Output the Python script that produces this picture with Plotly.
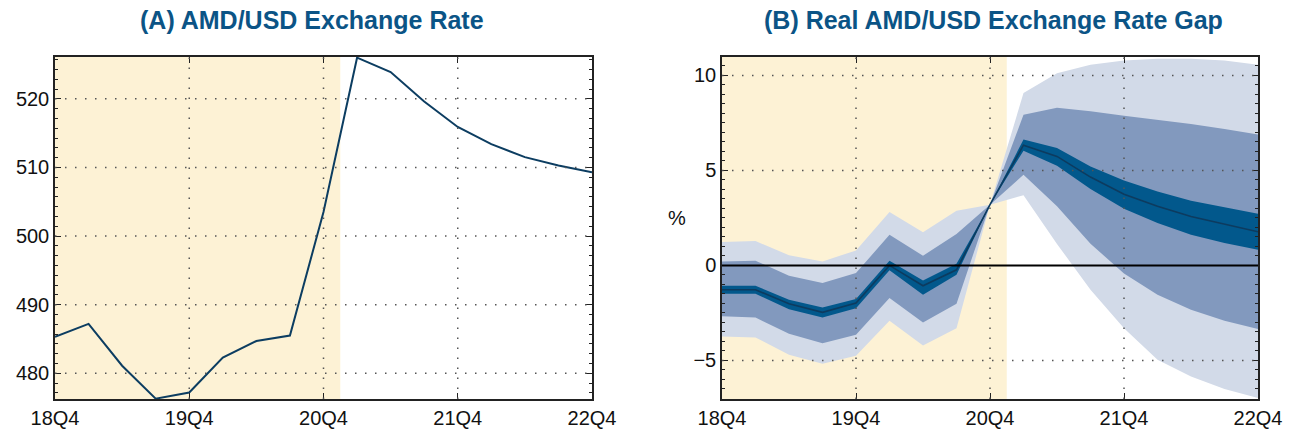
import plotly.graph_objects as go

# ---------------- data ----------------
quarters = ["18Q4", "19Q1", "19Q2", "19Q3", "19Q4", "20Q1", "20Q2", "20Q3", "20Q4",
            "21Q1", "21Q2", "21Q3", "21Q4", "22Q1", "22Q2", "22Q3", "22Q4"]
tick_labels = ["18Q4", "19Q4", "20Q4", "21Q4", "22Q4"]

amd_usd = [485.3, 487.2, 481.1, 476.3, 477.2, 482.3, 484.7, 485.5, 503.5,
           526.0, 523.9, 519.6, 515.9, 513.4, 511.5, 510.3, 509.3]

gap_center = [-1.28, -1.28, -2.02, -2.47, -1.98, 0.0, -1.07, -0.23, 3.2,
              6.33, 5.74, 4.65, 3.75, 3.11, 2.58, 2.18, 1.77]
gap_dark_hi = [-1.07, -1.07, -1.81, -2.21, -1.77, 0.25, -0.79, 0.09, 3.2,
               6.63, 6.18, 5.21, 4.47, 3.89, 3.40, 3.05, 2.72]
gap_dark_lo = [-1.49, -1.49, -2.30, -2.74, -2.25, -0.26, -1.54, -0.49, 3.2,
               6.04, 5.25, 4.02, 2.98, 2.23, 1.61, 1.18, 0.82]
gap_med_hi = [0.21, 0.25, -0.54, -0.93, -0.40, 1.61, 0.51, 1.65, 3.2,
              7.93, 8.30, 8.11, 7.88, 7.67, 7.44, 7.18, 6.89]
gap_med_lo = [-2.68, -2.74, -3.60, -4.09, -3.65, -1.72, -3.00, -2.02, 3.2,
              4.77, 3.11, 1.14, -0.42, -1.54, -2.33, -2.91, -3.35]
gap_light_hi = [1.23, 1.28, 0.53, 0.21, 0.79, 2.81, 1.75, 2.88, 3.2,
                9.07, 10.12, 10.56, 10.79, 10.88, 10.88, 10.79, 10.56]
gap_light_lo = [-3.74, -3.79, -4.70, -5.18, -4.75, -2.91, -4.21, -3.30, 3.2,
                3.70, 1.13, -1.28, -3.30, -4.96, -5.84, -6.51, -6.98]

left_yticks = [480, 490, 500, 510, 520]
right_yticks = [-5, 0, 5, 10]
history_end = "20Q4"   # shaded history period ends half a quarter after this

# ---------------- styling ----------------
W, H = 1290, 439
TITLE_COLOR = "#0b5486"
FRAME = "#222222"
GRID = "#555555"
SHADE = "#fdf2d5"
LIGHT = "#d2dae8"
MED = "#8299be"
DARK = "#02588c"
CENTER = "#0d3b5f"
FONT = "Liberation Sans, Arial, sans-serif"

xs = list(range(len(quarters)))
tickvals = [quarters.index(t) for t in tick_labels]
shade_end = quarters.index(history_end) + 0.5

fig = go.Figure()

# left panel
fig.add_trace(go.Scatter(x=xs, y=amd_usd, mode="lines",
                         line=dict(color="#0c3d61", width=2),
                         xaxis="x", yaxis="y", showlegend=False, hoverinfo="skip"))

# right panel fan
for lo, hi, col in [(gap_light_lo, gap_light_hi, LIGHT),
                    (gap_med_lo, gap_med_hi, MED),
                    (gap_dark_lo, gap_dark_hi, DARK)]:
    fig.add_trace(go.Scatter(x=xs, y=lo, mode="lines", line=dict(width=0, color=col),
                             xaxis="x2", yaxis="y2", showlegend=False, hoverinfo="skip"))
    fig.add_trace(go.Scatter(x=xs, y=hi, mode="lines", line=dict(width=0, color=col),
                             fill="tonexty", fillcolor=col,
                             xaxis="x2", yaxis="y2", showlegend=False, hoverinfo="skip"))
fig.add_trace(go.Scatter(x=xs, y=gap_center, mode="lines",
                         line=dict(color=CENTER, width=1.6),
                         xaxis="x2", yaxis="y2", showlegend=False, hoverinfo="skip"))

dom_y = [1 - 399 / H, 1 - 57 / H]
axis_common = dict(showline=True, linecolor=FRAME, linewidth=1.5, mirror="ticks",
                   ticks="inside", ticklen=6, tickcolor=FRAME, tickwidth=1.2,
                   showgrid=False, zeroline=False, automargin=False,
                   tickfont=dict(family=FONT, size=20, color="#111111"))

fig.update_layout(
    width=W, height=H, margin=dict(l=0, r=0, t=0, b=0, autoexpand=False),
    paper_bgcolor="white", plot_bgcolor="white",
    xaxis=dict(domain=[55 / W, 592 / W], range=[0, len(xs) - 1],
               tickvals=tickvals, ticktext=tick_labels, anchor="y", **axis_common),
    yaxis=dict(domain=dom_y, range=[476.25, 526.1], tickvals=left_yticks,
               anchor="x",
               minor=dict(dtick=10 / 7, tick0=480, ticks="inside", ticklen=3,
                          tickcolor=FRAME, showgrid=False),
               **axis_common),
    xaxis2=dict(domain=[722 / W, 1258 / W], range=[0, len(xs) - 1],
                tickvals=tickvals, ticktext=tick_labels, anchor="y2", **axis_common),
    yaxis2=dict(domain=dom_y, range=[-7.03, 10.97], tickvals=right_yticks,
                anchor="x2",
                minor=dict(dtick=0.5, tick0=0, ticks="inside", ticklen=3,
                           tickcolor=FRAME, showgrid=False),
                **axis_common),
)

shapes = []
# shaded history areas
for xr, yr in [("x", "y domain"), ("x2", "y2 domain")]:
    shapes.append(dict(type="rect", xref=xr, yref=yr, x0=0, x1=shade_end, y0=0, y1=1,
                       fillcolor=SHADE, line=dict(width=0), layer="below"))

dot = "1.5px,8.5px"
# dotted grid drawn above the data
for xr, yr, yt in [("x", "y", left_yticks), ("x2", "y2", right_yticks)]:
    for tv in tickvals[1:-1]:
        shapes.append(dict(type="line", xref=xr, yref=yr + " domain",
                           x0=tv, x1=tv, y0=0, y1=1,
                           line=dict(color=GRID, width=1.5, dash=dot), layer="above"))
    for v in yt:
        if xr == "x2" and v == 0:
            continue
        shapes.append(dict(type="line", xref=xr + " domain", yref=yr,
                           x0=0, x1=1, y0=v, y1=v,
                           line=dict(color=GRID, width=1.5, dash=dot), layer="above"))
# zero line
shapes.append(dict(type="line", xref="x2 domain", yref="y2", x0=0, x1=1, y0=0, y1=0,
                   line=dict(color="black", width=2), layer="above"))
fig.update_layout(shapes=shapes)

title_font = dict(family=FONT, size=25, color=TITLE_COLOR)
fig.add_annotation(text="<b>(A) AMD/USD Exchange Rate</b>", xref="paper", yref="paper",
                   x=311.5 / W, y=1 - 20 / H, xanchor="center", yanchor="middle",
                   showarrow=False, font=title_font)
fig.add_annotation(text="<b>(B) Real AMD/USD Exchange Rate Gap</b>", xref="paper",
                   yref="paper", x=994 / W, y=1 - 20 / H, xanchor="center",
                   yanchor="middle", showarrow=False, font=title_font)
fig.add_annotation(text="%", xref="paper", yref="paper", x=677 / W, y=1 - 218 / H,
                   xanchor="center", yanchor="middle", showarrow=False,
                   font=dict(family=FONT, size=20, color="#111111"))

fig.write_html("out.html",
               config={"displayModeBar": False},
               post_script="document.body.style.margin='0';"
                           "document.body.style.overflow='hidden';")
